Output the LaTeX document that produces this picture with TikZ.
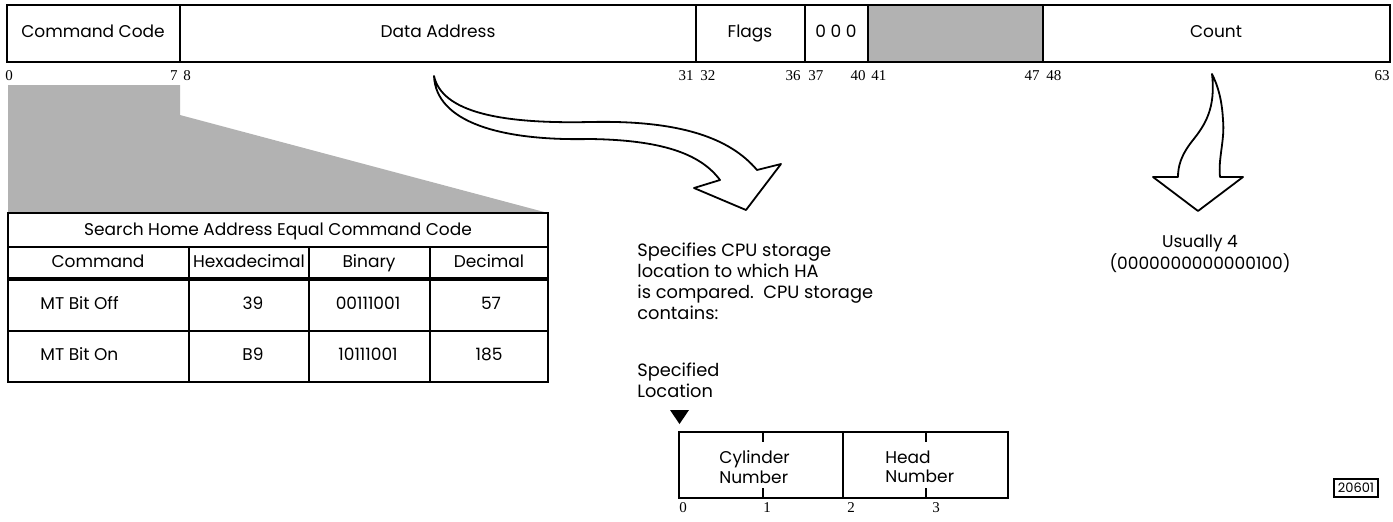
\documentclass[tikz,border=0pt]{standalone}
\usepackage{fontspec}
\setmainfont{Poppins}
\newfontfamily\bitfont{Liberation Serif}
\begin{document}
\begin{tikzpicture}[x=0.5pt,y=-0.5pt,
  txt/.style={font=\fontsize{8.5}{9.75}\selectfont, inner sep=0pt, text height=6.2pt, text depth=1.6pt},
  note/.style={font=\fontsize{8.9}{10.5}\selectfont, inner sep=0pt, align=left},
  bit/.style={font=\bitfont\fontsize{7.5}{9}\selectfont, inner sep=0pt},
  halftone/.style={fill=black!30},
  hollow/.style={line width=0.9pt, line join=round, fill=white}]
\useasboundingbox (0,0) rectangle (1393,521);
\fill[halftone] (868,5) rectangle (1043,62);
\fill[halftone] (8,85) -- (180,85) -- (180,115) -- (548,213) -- (8,213) -- cycle;
\draw[line width=1.2pt] (7,5) rectangle (1390,62);
\foreach \x in {180,696,805,868,1043}
  \draw[line width=1.2pt] (\x,5) -- (\x,62);
\node[txt] (code) at (93,33) {Command Code};
\node[txt] (addr) at (438,33) {Data Address};
\node[txt] (flags) at (750,33) {Flags};
\node[txt] (zeros) at (836,33) {0 0 0};
\node[txt] (count) at (1216,33) {Count};
\foreach \n/\x/\a in {0/5/west,7/178/east,8/183/west,31/694/east,32/700/west,
    36/801/east,37/808/west,40/866/east,41/871/west,47/1040/east,48/1046/west,63/1390/east}
  \node[bit, anchor=\a] (b\n) at (\x,76) {\n};

\draw[line width=1pt] (8,213) rectangle (548,382);
\draw[line width=0.8pt] (8,247) -- (548,247);
\draw[line width=2pt] (8,279) -- (548,279);
\draw[line width=0.8pt] (8,331) -- (548,331);
\foreach \x in {189,309,430}
  \draw[line width=0.8pt] (\x,247) -- (\x,382);
\node[txt] (title) at (278,231) {Search Home Address Equal Command Code};
\node[txt] (hcmd) at (98,263) {Command};
\node[txt] (hhex) at (249,263) {Hexadecimal};
\node[txt] (hbin) at (369,263) {Binary};
\node[txt] (hdec) at (489,263) {Decimal};
\node[txt, anchor=west] (off) at (40,305) {MT Bit Off};
\node[txt] (offhex) at (253,305) {39};
\node[txt] (offbin) at (368,305) {00111001};
\node[txt] (offdec) at (491,305) {57};
\node[txt, anchor=west] (on) at (40,356) {MT Bit On};
\node[txt] (onhex) at (253,356) {B9};
\node[txt] (onbin) at (368,356) {10111001};
\node[txt] (ondec) at (489,356) {185};

\draw[hollow] (434,76) .. controls (442,112) and (500,124) .. (590,122)
  .. controls (680,120) and (730,138) .. (757,170) -- (781,164) -- (746,210)
  -- (694,188) -- (720,180) .. controls (700,153) and (660,140) .. (590,139)
  .. controls (500,141) and (436,122) .. (434,76) -- cycle;
\draw[hollow] (1212,74) .. controls (1216,108) and (1205,125) .. (1193,140)
  .. controls (1181,155) and (1178,166) .. (1178,177) -- (1153,177) -- (1198,211)
  -- (1243,177) -- (1220,177) .. controls (1218,158) and (1225,140) .. (1223,120)
  .. controls (1222,100) and (1218,86) .. (1212,74) -- cycle;

\node[txt, align=center, text height=, text depth=, font=\fontsize{8.5}{9}\selectfont] (usual) at (1200,254) {Usually 4\\(0000000000000100)};
\node[note, anchor=north west] (spec) at (637,242)
  {Specifies CPU storage\\location to which HA\\is compared.\ \ CPU storage\\contains:};
\node[note, anchor=north west] (loc) at (637,362) {Specified\\Location};
\fill (670,410) -- (689,410) -- (679.5,424) -- cycle;
\draw[line width=0.9pt] (679,432) rectangle (1008,498);
\draw[line width=0.9pt] (843,432) -- (843,498);
\foreach \x in {763,926}
  \draw[line width=0.6pt] (\x,432) -- (\x,442) (\x,488) -- (\x,498);
\node[txt, align=left, anchor=west, text height=, text depth=] (cyl) at (719,467) {Cylinder\\Number};
\node[txt, align=left, anchor=west, text height=, text depth=] (head) at (885,467) {Head\\Number};
\foreach \n/\x in {0/683,1/767,2/851,3/936}
  \node[bit] (s\n) at (\x,508) {\n};
\node[draw, line width=0.8pt, font=\fontsize{6.5}{8}\selectfont, inner sep=2pt] (fig) at (1356,488) {20601};
\end{tikzpicture}
\end{document}
